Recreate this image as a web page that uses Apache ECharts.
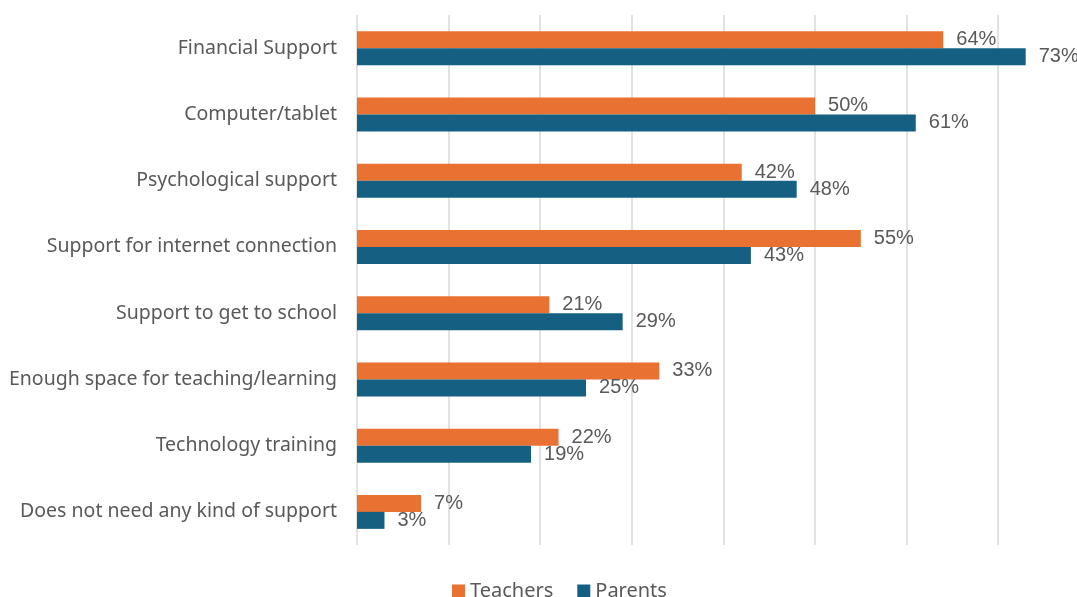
<!DOCTYPE html>
<html>
<head>
<meta charset="utf-8">
<script src="https://cdn.jsdelivr.net/npm/echarts@6/dist/echarts.min.js"></script>
<style>
  html, body { margin: 0; padding: 0; background: #ffffff; overflow: hidden; }
  #chart { width: 1077px; height: 597px; }
</style>
</head>
<body>
<div id="chart"></div>
<script>
// Kinds of support needed, share of respondents (%)
const categories = [
  'Financial Support',
  'Computer/tablet',
  'Psychological support',
  'Support for internet connection',
  'Support to get to school',
  'Enough space for teaching/learning',
  'Technology training',
  'Does not need any kind of support'
];
const teachers = [64, 50, 42, 55, 21, 33, 22, 7];
const parents = [73, 61, 48, 43, 29, 25, 19, 3];

const labelStyle = {
  show: true,
  position: 'right',
  distance: 13,
  formatter: '{c}%',
  color: '#595959',
  fontFamily: 'Liberation Sans, Arial, sans-serif',
  fontSize: 20
};

const chart = echarts.init(document.getElementById('chart'), null, { renderer: 'canvas' });
chart.setOption({
  animation: false,
  backgroundColor: '#ffffff',
  grid: {
    left: 357, top: 15, right: 0, bottom: 52,
    containLabel: false,
    outerBoundsMode: 'none'
  },
  legend: {
    data: ['Teachers', 'Parents'],
    top: 576,
    left: 447,
    icon: 'rect',
    itemWidth: 13,
    itemHeight: 13,
    itemGap: 24,
    textStyle: { color: '#595959', fontSize: 20, fontFamily: 'Noto Sans, sans-serif' }
  },
  xAxis: {
    type: 'value',
    min: 0,
    // the plot is cut at the right edge, just short of the 80% line
    max: 78.6,
    interval: 10,
    axisLabel: { show: false },
    axisLine: { show: false },
    axisTick: { show: false },
    splitLine: {
      show: true,
      showMaxLine: false,
      lineStyle: { color: '#d9d9d9', width: 1.5 }
    }
  },
  yAxis: {
    type: 'category',
    data: categories,
    inverse: true,
    axisLine: { show: false },
    axisTick: { show: false },
    axisLabel: {
      margin: 20,
      color: '#595959',
      fontSize: 19.5,
      fontFamily: 'Noto Sans, sans-serif'
    }
  },
  series: [
    {
      name: 'Teachers',
      type: 'bar',
      data: teachers,
      barWidth: 17,
      barGap: '0%',
      itemStyle: { color: '#E97132' },
      label: labelStyle
    },
    {
      name: 'Parents',
      type: 'bar',
      data: parents,
      barWidth: 17,
      barGap: '0%',
      itemStyle: { color: '#156082' },
      label: labelStyle
    }
  ]
});
</script>
</body>
</html>
